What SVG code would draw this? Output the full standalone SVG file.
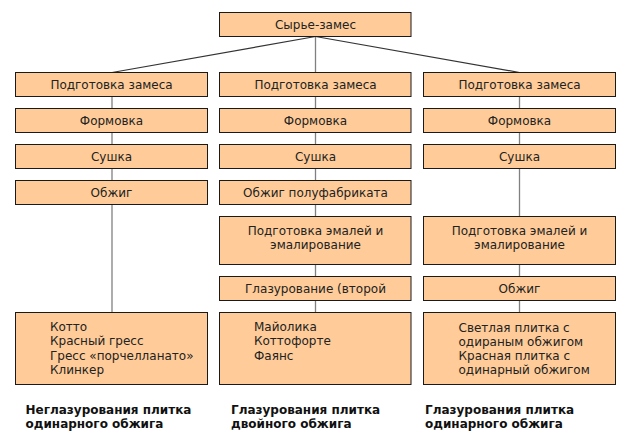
<svg xmlns="http://www.w3.org/2000/svg" width="631" height="440" viewBox="0 0 631 440">
<style>
.b{fill:#FFCC99;stroke:#1a1a1a;stroke-width:1}
.t{font-family:"DejaVu Sans",Verdana,sans-serif;font-size:12px;fill:#222}
.c{text-anchor:middle}
.h{font-family:"DejaVu Sans",Verdana,sans-serif;font-size:12px;font-weight:bold;fill:#111}
.v{stroke:#808080;stroke-width:1.3;fill:none}
.d{stroke:#333;stroke-width:1.2;fill:none}
</style>
<rect width="631" height="440" fill="#fff"/>
<g id="connectors">
<line class="d" x1="315.5" y1="36.5" x2="112" y2="72.5"/>
<line class="d" x1="315.5" y1="36.5" x2="519.5" y2="72.5"/>
<line class="v" x1="315.5" y1="36.5" x2="315.5" y2="312.5"/>
<line class="v" x1="112" y1="96.5" x2="112" y2="312.5"/>
<line class="v" x1="519.5" y1="96.5" x2="519.5" y2="312.5"/>
</g>
<g id="n-top"><rect class="b" x="219.5" y="12.5" width="191.5" height="24"/><text class="t c" x="315.5" y="29">Сырье-замес</text></g>
<g id="n-l1"><rect class="b" x="15.5" y="72.5" width="192" height="24"/><text class="t c" x="111.5" y="89">Подготовка замеса</text></g>
<g id="n-m1"><rect class="b" x="219.5" y="72.5" width="191.5" height="24"/><text class="t c" x="315.5" y="89">Подготовка замеса</text></g>
<g id="n-r1"><rect class="b" x="423.5" y="72.5" width="192" height="24"/><text class="t c" x="519.5" y="89">Подготовка замеса</text></g>
<g id="n-l2"><rect class="b" x="15.5" y="108.5" width="192" height="24"/><text class="t c" x="111.5" y="125">Формовка</text></g>
<g id="n-m2"><rect class="b" x="219.5" y="108.5" width="191.5" height="24"/><text class="t c" x="315.5" y="125">Формовка</text></g>
<g id="n-r2"><rect class="b" x="423.5" y="108.5" width="192" height="24"/><text class="t c" x="519.5" y="125">Формовка</text></g>
<g id="n-l3"><rect class="b" x="15.5" y="144.5" width="192" height="24"/><text class="t c" x="111.5" y="161">Сушка</text></g>
<g id="n-m3"><rect class="b" x="219.5" y="144.5" width="191.5" height="24"/><text class="t c" x="315.5" y="161">Сушка</text></g>
<g id="n-r3"><rect class="b" x="423.5" y="144.5" width="192" height="24"/><text class="t c" x="519.5" y="161">Сушка</text></g>
<g id="n-l4"><rect class="b" x="15.5" y="180.5" width="192" height="24"/><text class="t c" x="111.5" y="197">Обжиг</text></g>
<g id="n-m4"><rect class="b" x="219.5" y="180.5" width="191.5" height="24"/><text class="t c" x="315.5" y="197">Обжиг полуфабриката</text></g>
<g id="n-m5"><rect class="b" x="219.5" y="216.5" width="191.5" height="48"/><text class="t c" x="315.5" y="234.5">Подготовка эмалей и</text><text class="t c" x="315.5" y="249">эмалирование</text></g>
<g id="n-r5"><rect class="b" x="423.5" y="216.5" width="192" height="48"/><text class="t c" x="519.5" y="234.5">Подготовка эмалей и</text><text class="t c" x="519.5" y="249">эмалирование</text></g>
<g id="n-m6"><rect class="b" x="219.5" y="276.5" width="191.5" height="24"/><text class="t c" x="315.5" y="293">Глазурование (второй</text></g>
<g id="n-r6"><rect class="b" x="423.5" y="276.5" width="192" height="24"/><text class="t c" x="519.5" y="293">Обжиг</text></g>
<g id="n-l7"><rect class="b" x="15.5" y="312.5" width="192" height="72"/>
<text class="t" x="50" y="331">Котто</text><text class="t" x="50" y="345.3">Красный гресс</text><text class="t" x="50" y="359.6">Гресс «порчелланато»</text><text class="t" x="50" y="373.9">Клинкер</text></g>
<g id="n-m7"><rect class="b" x="219.5" y="312.5" width="191.5" height="72"/>
<text class="t" x="254" y="331">Майолика</text><text class="t" x="254" y="345.3">Коттофорте</text><text class="t" x="254" y="359.6">Фаянс</text></g>
<g id="n-r7"><rect class="b" x="423.5" y="312.5" width="192" height="72"/>
<text class="t" x="458.5" y="331.5">Светлая плитка с</text><text class="t" x="458.5" y="345.8">одираным обжигом</text><text class="t" x="458.5" y="360.1">Красная плитка с</text><text class="t" x="458.5" y="374.4">одинарный обжигом</text></g>
<g id="labels">
<text class="h" x="25.5" y="414">Неглазурования плитка</text><text class="h" x="25.5" y="428">одинарного обжига</text>
<text class="h" x="231" y="414">Глазурования плитка</text><text class="h" x="231" y="428">двойного обжига</text>
<text class="h" x="425" y="414">Глазурования плитка</text><text class="h" x="425" y="428">одинарного обжига</text>
</g>
</svg>
